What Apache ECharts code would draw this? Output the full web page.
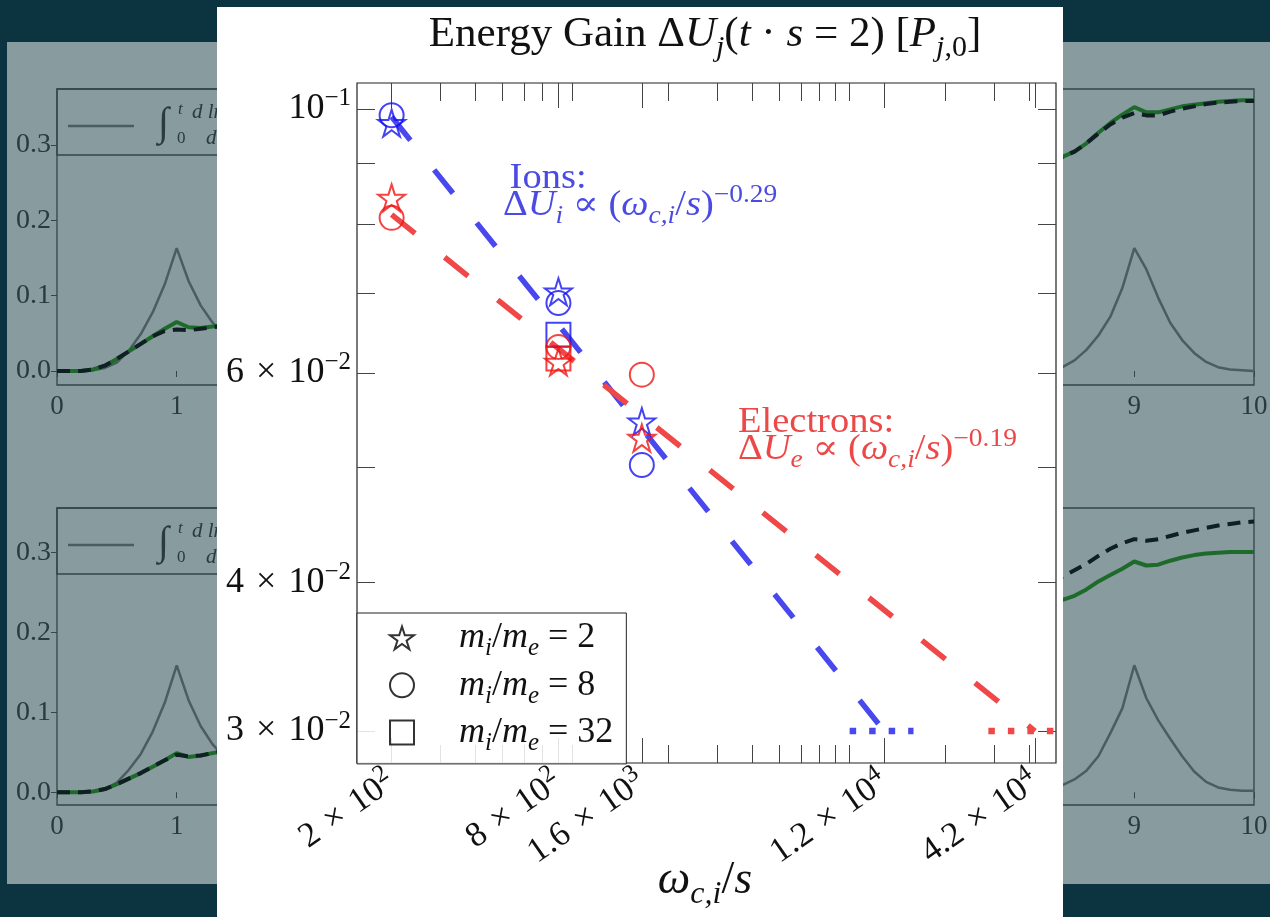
<!DOCTYPE html>
<html>
<head>
<meta charset="utf-8">
<script src="https://cdn.jsdelivr.net/npm/echarts@6.0.0/dist/echarts.min.js"></script>
<style>
  html, body { margin: 0; padding: 0; width: 1270px; height: 917px; overflow: hidden; background: #0b3440; }
  #slide { position: absolute; left: 7px; top: 42px; width: 1263px; height: 842px; background: #889b9e; }
  #bg { position: absolute; left: 0; top: 0; width: 1270px; height: 917px; }
  #panel { position: absolute; left: 217px; top: 7px; width: 846px; height: 910px; background: #ffffff; }
  #main { width: 846px; height: 910px; }
</style>
</head>
<body>
<div id="slide"></div>
<div id="bg"></div>
<div id="panel"><div id="main"></div></div>
<script>
  const FONT = '"Liberation Serif", "DejaVu Serif", serif';

  // ---- faded background figure (only the strips left/right of the panel show) ----
  const tLeft = [0, 0.2, 0.3, 0.4, 0.5, 0.6, 0.7, 0.8, 0.9, 1.0, 1.1, 1.2, 1.3, 1.4];
  const tRight = [8.3, 8.4, 8.5, 8.6, 8.7, 8.8, 8.9, 9.0, 9.1, 9.2, 9.3, 9.4, 9.5, 9.6, 9.7, 9.8, 9.9, 10];
  const bgTicksY = [0, 0.1, 0.2, 0.3];

  const topRateL = [0, 0, 0.001, 0.004, 0.011, 0.027, 0.049, 0.078, 0.115, 0.163, 0.119, 0.087, 0.064, 0.047];
  const topGreenL = [0, 0, 0.002, 0.007, 0.016, 0.026, 0.036, 0.046, 0.056, 0.065, 0.058, 0.057, 0.059, 0.061];
  const topBlackL = [0, 0, 0.002, 0.007, 0.016, 0.026, 0.036, 0.046, 0.053, 0.055, 0.054, 0.056, 0.058, 0.060];
  const topRateR = [0.002, 0.005, 0.014, 0.028, 0.047, 0.072, 0.11, 0.163, 0.135, 0.097, 0.064, 0.041, 0.024, 0.012, 0.005, 0.002, 0.001, 0.0];
  const topGreenR = [0.279, 0.284, 0.291, 0.302, 0.316, 0.329, 0.340, 0.350, 0.343, 0.343, 0.347, 0.351, 0.353, 0.355, 0.357, 0.358, 0.359, 0.359];
  const topBlackR = [0.279, 0.284, 0.291, 0.302, 0.315, 0.327, 0.336, 0.342, 0.339, 0.339, 0.344, 0.348, 0.351, 0.354, 0.356, 0.357, 0.358, 0.358];

  const botRateL = [0, 0, 0.001, 0.004, 0.012, 0.028, 0.048, 0.076, 0.112, 0.159, 0.115, 0.083, 0.060, 0.044];
  const botGreenL = [0, 0, 0.001, 0.004, 0.010, 0.017, 0.024, 0.032, 0.040, 0.049, 0.044, 0.046, 0.049, 0.052];
  const botBlackL = [0, 0, 0.001, 0.004, 0.010, 0.017, 0.024, 0.032, 0.040, 0.047, 0.045, 0.046, 0.049, 0.052];
  const botRateR = [0.004, 0.009, 0.016, 0.027, 0.045, 0.074, 0.105, 0.159, 0.118, 0.09, 0.067, 0.045, 0.026, 0.013, 0.006, 0.003, 0.002, 0.002];
  const botGreenR = [0.236, 0.241, 0.246, 0.254, 0.264, 0.272, 0.280, 0.289, 0.284, 0.285, 0.290, 0.294, 0.297, 0.299, 0.300, 0.301, 0.301, 0.301];
  const botBlackR = [0.265, 0.270, 0.278, 0.286, 0.296, 0.305, 0.312, 0.317, 0.315, 0.317, 0.321, 0.325, 0.328, 0.331, 0.334, 0.336, 0.338, 0.339];

  // ---- main chart: energy gain vs omega_ci / s ----
  const omega = [200, 800, 1600];
  const ionsMr2 = [0.0973, 0.0702, 0.0546];
  const ionsMr8 = [0.0988, 0.0687, 0.0502];
  const ionsMr32 = [null, 0.0646, null];
  const elecMr2 = [0.0842, 0.0613, 0.0529];
  const elecMr8 = [0.0810, 0.0631, 0.0598];
  const elecMr32 = [null, 0.0617, null];

  const ionFitX = [200, 12000];
  const ionFitY = [0.0985, 0.03];
  const elecFitX = [200, 42000];
  const elecFitY = [0.0815, 0.03];
  const ionFloorX = [9000, 15300];
  const elecFloorX = [28500, 50000];
  const floorY = [0.03, 0.03];

  const xMajor = [200, 800, 1600, 12000, 42000];
  const xMajorMant = ['2', '8', '1.6', '1.2', '4.2'];
  const xMajorExp = ['2', '2', '3', '4', '4'];
  const xMinor = [300, 400, 500, 600, 700, 900, 2000, 3000, 4000, 5000, 6000, 7000, 8000, 9000, 20000, 30000, 40000];
  const yTicks = [0.03, 0.04, 0.05, 0.06, 0.07, 0.08, 0.09, 0.1];
  const yLabeled = [0.03, 0.04, 0.06, 0.1];
  const yLabelMant = ['3', '4', '6', ''];
  const yLabelExp = ['−2', '−2', '−2', '−1'];
  const massNames = ['mr2', 'mr8', 'mr32'];
  const massRatios = ['2', '8', '32'];

  const STAR = 'path://M0,-10L2.245,-3.09L9.511,-3.09L3.633,1.18L5.878,8.09L0,3.82L-5.878,8.09L-3.633,1.18L-9.511,-3.09L-2.245,-3.09Z';
  const TIMES = '\u2004×\u2004';

  function pair(xs, ys) {
    return xs.map((x, i) => [x, ys[i]]).filter(p => p[1] != null);
  }

  // rich styles for "math" text: roman, italic, superscript, subscript
  function mathRich(size, color, lineH) {
    const L = lineH || Math.round(size * 1.3);
    const small = Math.round(size * 0.7);
    const mk = (fs, extra) => Object.assign({ fontFamily: FONT, fontSize: fs, color: color, fill: color }, extra);
    const hs = Math.max(1, L - 0.56 * size);
    const hb = Math.max(1, L - 0.6 * size);
    return {
      r: mk(size, { lineHeight: L }),
      i: mk(size, { lineHeight: L, fontStyle: 'italic' }),
      sup: mk(small, { height: hs, lineHeight: hs, verticalAlign: 'top' }),
      sub: mk(small, { height: hb, lineHeight: hb, verticalAlign: 'bottom', fontStyle: 'italic' }),
      subr: mk(small, { height: hb, lineHeight: hb, verticalAlign: 'bottom' })
    };
  }

  function closeIdx(list, v) {
    for (let k = 0; k < list.length; k++) {
      if (Math.abs(v - list[k]) / list[k] < 1e-4) return k;
    }
    return -1;
  }

  // ---------------- background chart ----------------
  const bgChart = echarts.init(document.getElementById('bg'));
  const BG_AXIS = '#33464a';
  const BG_TEXT = '#2a3a3e';

  function bgLines(g, xs, rate, green, black) {
    return [
      { type: 'line', xAxisIndex: g, yAxisIndex: g, data: pair(xs, rate), symbol: 'none', silent: true,
        lineStyle: { color: '#4b5d61', width: 2.5 } },
      { type: 'line', xAxisIndex: g, yAxisIndex: g, data: pair(xs, green), symbol: 'none', silent: true,
        lineStyle: { color: '#1d6a2b', width: 4 } },
      { type: 'line', xAxisIndex: g, yAxisIndex: g, data: pair(xs, black), symbol: 'none', silent: true,
        lineStyle: { color: '#0f1f23', width: 4, type: [13, 8] } }
    ];
  }

  const bgX = g => ({
    type: 'value', gridIndex: g, min: 0, max: 10, interval: 1,
    axisLine: { show: false }, splitLine: { show: false },
    axisTick: { length: 6, lineStyle: { color: BG_AXIS } },
    axisLabel: { margin: 8, fontFamily: FONT, fontSize: 27, color: BG_TEXT }
  });
  const bgY = (g, min, max) => ({
    type: 'value', gridIndex: g, min: min, max: max,
    axisLine: { show: false }, splitLine: { show: false },
    axisTick: { length: 6, customValues: bgTicksY, lineStyle: { color: BG_AXIS } },
    axisLabel: { margin: 6, customValues: bgTicksY, fontFamily: FONT, fontSize: 28, color: BG_TEXT,
      formatter: v => v.toFixed(1) }
  });

  function bgLegend(top, lineY) {
    return [
      { type: 'rect', shape: { x: 57, y: top, width: 640, height: 66 }, silent: true,
        style: { fill: 'none', stroke: BG_AXIS, lineWidth: 1.3 } },
      { type: 'line', shape: { x1: 68, y1: lineY, x2: 134, y2: lineY }, silent: true,
        style: { stroke: '#4b5d61', lineWidth: 2.5 } },
      { type: 'text', x: 158, y: lineY - 22, silent: true,
        style: { text: '∫', fontFamily: FONT, fontSize: 40, fill: BG_TEXT } },
      { type: 'text', x: 178, y: lineY - 25, silent: true,
        style: { text: 't', fontFamily: FONT, fontStyle: 'italic', fontSize: 17, fill: BG_TEXT } },
      { type: 'text', x: 177, y: lineY + 4, silent: true,
        style: { text: '0', fontFamily: FONT, fontSize: 17, fill: BG_TEXT } },
      { type: 'text', x: 192, y: lineY - 24, silent: true,
        style: { text: 'd ln', fontFamily: FONT, fontStyle: 'italic', fontSize: 21, fill: BG_TEXT } },
      { type: 'text', x: 206, y: lineY + 2, silent: true,
        style: { text: 'd', fontFamily: FONT, fontStyle: 'italic', fontSize: 21, fill: BG_TEXT } }
    ];
  }

  bgChart.setOption({
    animation: false,
    backgroundColor: 'transparent',
    grid: [
      { left: 57, top: 89, width: 1197, height: 296, show: true, borderColor: BG_AXIS, borderWidth: 1.3,
        outerBoundsMode: 'none' },
      { left: 57, top: 508, width: 1197, height: 297, show: true, borderColor: BG_AXIS, borderWidth: 1.3,
        outerBoundsMode: 'none' }
    ],
    xAxis: [bgX(0), bgX(1)],
    yAxis: [bgY(0, -0.0186, 0.374), bgY(1, -0.016, 0.356)],
    graphic: bgLegend(89, 126).concat(bgLegend(508, 545)),
    series: [].concat(
      bgLines(0, tLeft, topRateL, topGreenL, topBlackL),
      bgLines(0, tRight, topRateR, topGreenR, topBlackR),
      bgLines(1, tLeft, botRateL, botGreenL, botBlackL),
      bgLines(1, tRight, botRateR, botGreenR, botBlackR)
    )
  });

  // ---------------- main chart ----------------
  const chart = echarts.init(document.getElementById('main'));
  const INK = '#111111';
  const TICK = '#444444';
  const BLUE_MK = '#1414f2', RED_MK = '#f01414';
  const BLUE_LN = '#4848ee', RED_LN = '#f04848';
  const BLUE_TX = '#4b4be4', RED_TX = '#ec4848';

  const xFmt = v => {
    const k = closeIdx(xMajor, v);
    return k < 0 ? '' : '{r|' + xMajorMant[k] + TIMES + '10}{sup|' + xMajorExp[k] + '}';
  };
  const yFmt = v => {
    const k = closeIdx(yLabeled, v);
    if (k < 0) return '';
    return '{r|' + (yLabelMant[k] ? yLabelMant[k] + TIMES : '') + '10}{sup|' + yLabelExp[k] + '}';
  };

  function xAx(pos, ticks, len, labels) {
    const ax = {
      type: 'log', logBase: 10, min: 150, max: 50000, gridIndex: 0, position: pos,
      axisLine: { show: false }, splitLine: { show: false }, minorTick: { show: false },
      axisTick: { inside: true, length: len, customValues: ticks, lineStyle: { color: TICK, width: 1 } },
      axisLabel: { show: false }
    };
    if (labels) {
      ax.axisLabel = { show: true, customValues: xMajor, rotate: 35, margin: 16, formatter: xFmt,
        rich: mathRich(35, INK) };
    }
    return ax;
  }
  function yAx(pos, labels) {
    return {
      type: 'log', logBase: 10, min: 0.0282, max: 0.10516, gridIndex: 0, position: pos,
      axisLine: { show: false }, splitLine: { show: false }, minorTick: { show: false },
      axisTick: { inside: true, length: 18, customValues: yTicks, lineStyle: { color: TICK, width: 1 } },
      axisLabel: labels ? { show: true, customValues: yLabeled, margin: 6, formatter: yFmt,
        rich: mathRich(36, INK) } : { show: false }
    };
  }

  function markers(name, ys, symbol, size, color) {
    return { name: name, type: 'scatter', data: pair(omega, ys), symbol: symbol, symbolSize: size, z: 6,
      itemStyle: { color: 'rgba(0,0,0,0)', borderColor: color, borderWidth: 2 } };
  }
  function fitLine(xs, ys, color, dash, width) {
    return { type: 'line', data: pair(xs, ys), symbol: 'none', silent: true, z: 4,
      lineStyle: { color: color, width: width, type: dash, cap: 'butt' } };
  }

  const legendIcons = [STAR, 'circle', 'rect'];
  const legendSeries = massNames.map((n, k) => ({
    name: n, type: 'scatter', data: [], symbol: legendIcons[k],
    itemStyle: { color: 'rgba(0,0,0,0)', borderColor: '#000', borderWidth: 2 }
  }));

  const legendRich = mathRich(36, INK, 30);
  legendRich.lead = Object.assign({}, legendRich.i, { padding: [0, 0, 0, 40] });

  const noteRich = c => {
    const rs = mathRich(35, c, 27);
    rs.rp = Object.assign({}, rs.r, { padding: [0, 0, 0, 6] });
    return rs;
  };

  chart.setOption({
    animation: false,
    backgroundColor: '#ffffff',
    grid: { left: 140, top: 76, width: 699, height: 680, show: true, borderColor: '#222222', borderWidth: 1.2,
      outerBoundsMode: 'none', containLabel: false },
    xAxis: [
      xAx('bottom', xMajor, 25, true),
      xAx('bottom', xMinor, 18, false),
      xAx('top', xMajor, 25, false),
      xAx('top', xMinor, 18, false)
    ],
    yAxis: [yAx('left', true), yAx('right', false)],
    legend: {
      left: 140, top: 606, orient: 'vertical',
      itemWidth: 24, itemHeight: 24, itemGap: 6,
      padding: [7, 13, 8, 32],
      backgroundColor: 'rgba(255,255,255,0.85)', borderColor: '#222222', borderWidth: 1, borderRadius: 0,
      data: massNames.map((n, k) => ({ name: n, icon: legendIcons[k],
        itemStyle: { color: 'rgba(0,0,0,0)', borderColor: '#000', borderWidth: 2 } })),
      formatter: n => '{lead|m}{sub|i}{r|/}{i|m}{sub|e}{r| = ' + massRatios[massNames.indexOf(n)] + '}',
      textStyle: { rich: legendRich },
      selectedMode: false, z: 20
    },
    graphic: [
      { type: 'text', x: 488, y: 28, z: 20, silent: true,
        style: { text: '{r|Energy Gain Δ}{i|U}{sub|j}{r|(}{i|t}{r| · }{i|s}{r| = 2) [}{i|P}{sub|j}{subr|,0}{r|]}',
          rich: mathRich(43, INK), align: 'center', textAlign: 'center', verticalAlign: 'middle', textVerticalAlign: 'middle' } },
      { type: 'text', x: 488, y: 874, z: 20, silent: true,
        style: { text: '{i|ω}{sub|c,i}{r|/}{i|s}',
          rich: mathRich(46, INK), align: 'center', textAlign: 'center', verticalAlign: 'middle', textVerticalAlign: 'middle' } },
      { type: 'text', x: 286, y: 158, z: 20, scaleX: 1.1, silent: true,
        style: { text: '{rp|Ions:}\n{r|Δ}{i|U}{sub|i}{r| ∝ (}{i|ω}{sub|c,i}{r|/}{i|s}{r|)}{sup|−0.29}',
          rich: noteRich(BLUE_TX), align: 'left', textAlign: 'left', verticalAlign: 'top', textVerticalAlign: 'top' } },
      { type: 'text', x: 521, y: 402, z: 20, scaleX: 1.1, silent: true,
        style: { text: '{r|Electrons:}\n{r|Δ}{i|U}{sub|e}{r| ∝ (}{i|ω}{sub|c,i}{r|/}{i|s}{r|)}{sup|−0.19}',
          rich: noteRich(RED_TX), align: 'left', textAlign: 'left', verticalAlign: 'top', textVerticalAlign: 'top' } }
    ],
    series: [
      fitLine(ionFitX, ionFitY, BLUE_LN, [30, 38], 5.5),
      fitLine(elecFitX, elecFitY, RED_LN, [30, 38], 5.5),
      fitLine(ionFloorX, floorY, BLUE_LN, [6.5, 13], 6.5),
      fitLine(elecFloorX, floorY, RED_LN, [6.5, 13], 6.5),
      markers('ions2', ionsMr2, STAR, 27, BLUE_MK),
      markers('ions8', ionsMr8, 'circle', 24, BLUE_MK),
      markers('ions32', ionsMr32, 'rect', 24, BLUE_MK),
      markers('elec2', elecMr2, STAR, 27, RED_MK),
      markers('elec8', elecMr8, 'circle', 24, RED_MK),
      markers('elec32', elecMr32, 'rect', 24, RED_MK)
    ].concat(legendSeries)
  });
</script>
</body>
</html>
